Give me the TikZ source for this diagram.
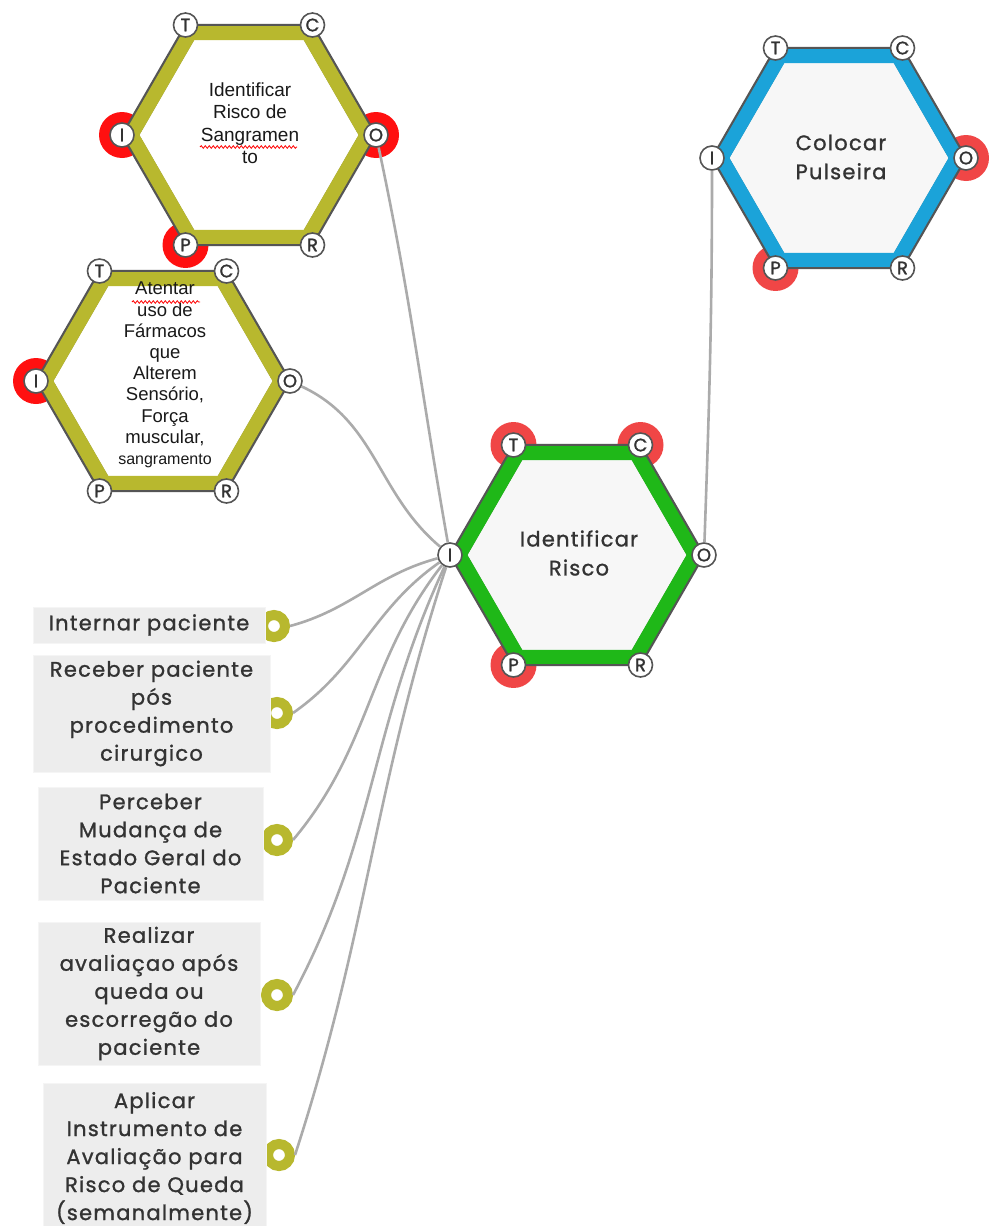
\documentclass[tikz,border=0pt]{standalone}
\usepackage{fontspec}
\setmainfont{Liberation Sans}
\newfontfamily\roundfont{Poppins}[FakeBold=1.2,LetterSpace=6]
\newfontfamily\portfont{Poppins}[FakeBold=1.5]
\usetikzlibrary{decorations.pathmorphing}

\definecolor{oliva}{HTML}{B8B82E}
\definecolor{verde}{HTML}{1FB818}
\definecolor{azul}{HTML}{1BA3D9}
\definecolor{vermelho}{HTML}{F04646}
\definecolor{vivo}{HTML}{FF1010}
\definecolor{borda}{HTML}{555555}
\definecolor{cinza}{HTML}{ABABAB}
\definecolor{caixa}{HTML}{EDEDED}
\definecolor{fundo}{HTML}{F7F7F7}
\definecolor{escrita}{HTML}{333333}

\begin{document}
\begin{tikzpicture}[x=1pt,y=1pt,
        porta/.style={draw=borda,line width=1.6pt,fill=white,circle,inner sep=0pt,
                minimum size=24pt,text=escrita,font=\portfont\fontsize{18}{18}\selectfont},
        anel/.style={draw=oliva,line width=10pt,fill=white,circle,inner sep=0pt,minimum size=22pt},
        caixinha/.style={fill=caixa,draw=white!96!black,inner sep=2pt,align=center,text=escrita,
                font=\roundfont\fontsize{21}{28}\selectfont},
        rotulo/.style={align=center,text=escrita,font=\roundfont\fontsize{21}{29}\selectfont},
        texto/.style={align=center,text=black!90,font=\fontsize{19}{22.5}\selectfont},
        liga/.style={draw=cinza,line width=2.6pt},
        rabisco/.style={draw=red,line width=0.8pt,decorate,decoration={snake,amplitude=1.3pt,segment length=4pt}}]

    \fill[white] (0,0) rectangle (990,-1226);
    \useasboundingbox (0,0) rectangle (990,-1226);

    \coordinate (sang) at (249,-135);
    \coordinate (farm) at (163,-381);
    \coordinate (risco) at (577,-555);
    \coordinate (puls) at (839,-158);

    % marcas vermelhas atras das portas
    \foreach \h/\a/\v in {sang/180/vivo,sang/0/vivo,sang/240/vivo,farm/180/vivo,
            risco/120/vermelho,risco/60/vermelho,risco/240/vermelho,puls/0/vermelho,puls/240/vermelho}
        \fill[\v] (\h) ++(\a:127) circle (23pt);

    \foreach \h/\cor/\fu in {sang/oliva/white,farm/oliva/white,risco/verde/fundo,puls/azul/fundo} {
        \draw[borda,line width=16pt,fill=\fu] (\h) +(0:119) -- +(60:119) -- +(120:119)
            -- +(180:119) -- +(240:119) -- +(300:119) -- cycle;
        \draw[\cor,line width=14pt] (\h) +(0:117.6) -- +(60:117.6) -- +(120:117.6)
            -- +(180:117.6) -- +(240:117.6) -- +(300:117.6) -- cycle;
        \foreach \a/\l in {0/O,60/C,120/T,180/I,240/P,300/R}
            \path (\h) ++(\a:127) node[porta] (\h-\l) {\l};
    }

    \node[texto] (sang-txt) at (250,-123) {Identificar\\Risco de\\Sangramen\\to};
    \node[texto,font=\fontsize{18.5}{21.2}\selectfont] (farm-txt) at (165,-375)
        {Atentar\\uso de\\Fármacos\\que\\Alterem\\Sensório,\\Força\\muscular,\\{\fontsize{16}{21.2}\selectfont sangramento}};
    \draw[rabisco] (200,-147) -- (297,-147);
    \draw[rabisco] (132,-302) -- (200,-302);

    \node[rotulo] (risco-txt) at (579,-553) {Identificar\\Risco};
    \node[rotulo] (puls-txt) at (841,-157) {Colocar\\Pulseira};

    % entradas
    \node[anel] (in1) at (274,-626) {};
    \node[anel] (in2) at (277,-713) {};
    \node[anel] (in3) at (277,-840) {};
    \node[anel] (in4) at (277,-995) {};
    \node[anel] (in5) at (279,-1155) {};

    \node[caixinha,minimum width=232pt,minimum height=36pt] (b1) at (149,-625) {Internar paciente};
    \node[caixinha,minimum width=237pt,minimum height=117pt] (b2) at (151.5,-713.5)
        {Receber paciente\\pós\\procedimento\\cirurgico};
    \node[caixinha,minimum width=225pt,minimum height=113pt] (b3) at (150.5,-843.5)
        {Perceber\\Mudança de\\Estado Geral do\\Paciente};
    \node[caixinha,minimum width=222pt,minimum height=143pt] (b4) at (149,-993.5)
        {Realizar\\avaliaçao após\\queda ou\\escorregão do\\paciente};
    \node[caixinha,minimum width=223pt,minimum height=150pt] (b5) at (154.5,-1158)
        {Aplicar\\Instrumento de\\Avaliação para\\Risco de Queda\\(semanalmente)};

    \draw[liga] (in1.east) to[out=15,in=195] (risco-I);
    \draw[liga] (in2.east) to[out=35,in=215] (risco-I);
    \draw[liga] (in3.east) to[out=50,in=232] (risco-I);
    \draw[liga] (in4.east) to[out=62,in=245] (risco-I);
    \draw[liga] (in5.east) to[out=72,in=252] (risco-I);
    \draw[liga] (sang-O) to[out=-78,in=100] (risco-I);
    \draw[liga] (farm-O) to[out=-25,in=140] (risco-I);
    \draw[liga] (risco-O) to[out=88,in=-90] (puls-I);
\end{tikzpicture}
\end{document}
